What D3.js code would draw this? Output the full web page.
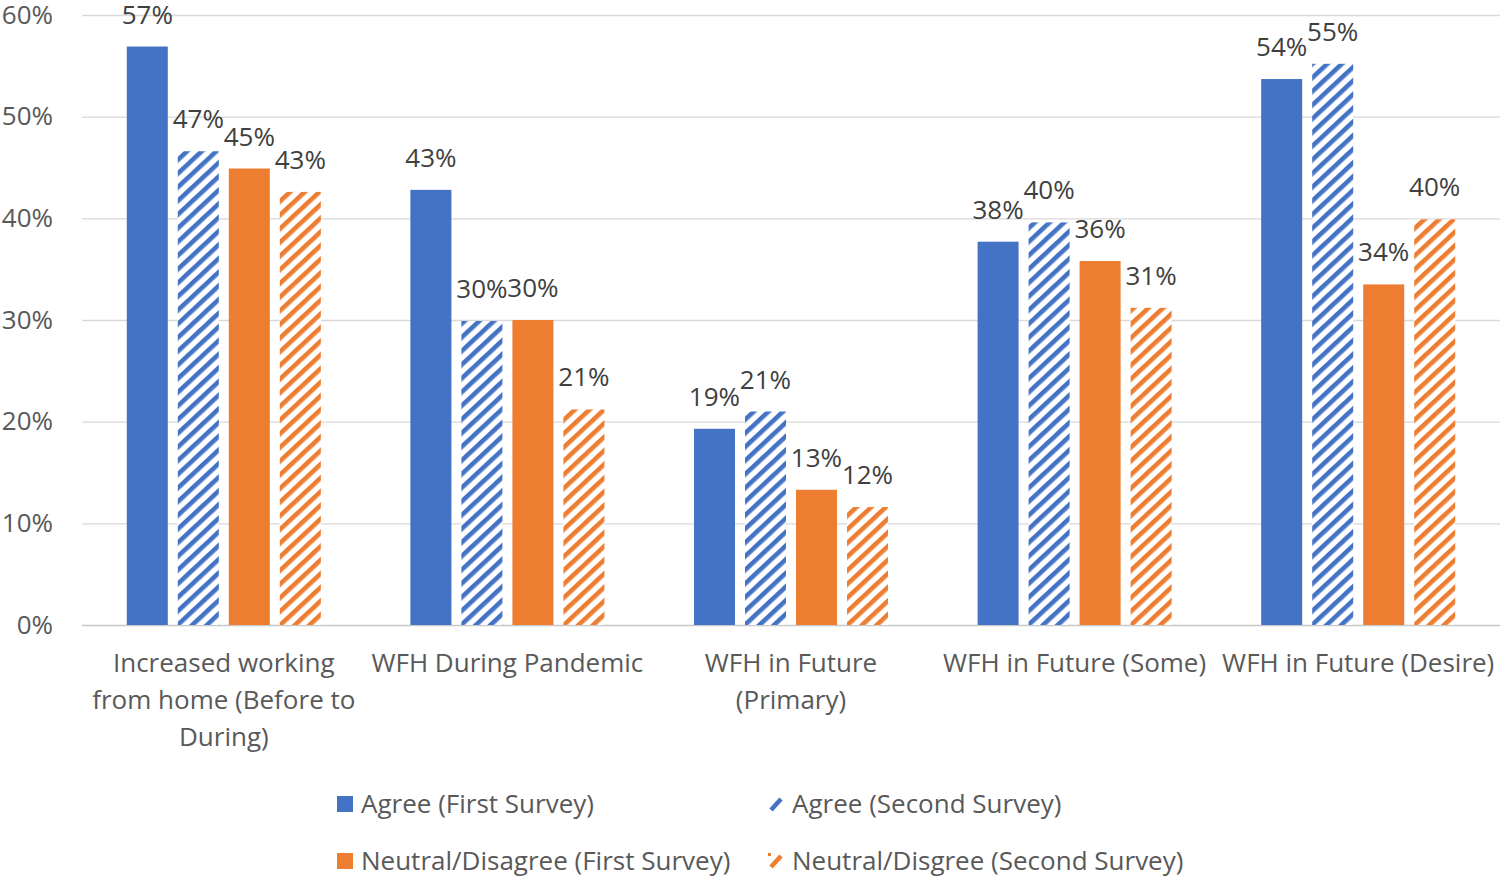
<!DOCTYPE html>
<html><head><meta charset="utf-8">
<script src="https://cdn.jsdelivr.net/npm/d3@7"></script>
<style>
html,body{margin:0;padding:0;background:#fff;}
svg{display:block;font-family:"Open Sans",sans-serif;}
</style></head>
<body><svg id="chart" width="1501" height="880"></svg>
<script>
const categories = ["Increased working from home (Before to During)","WFH During Pandemic","WFH in Future (Primary)","WFH in Future (Some)","WFH in Future (Desire)"];
const categoryLabels = [["Increased working","from home (Before to","During)"],["WFH During Pandemic"],["WFH in Future","(Primary)"],["WFH in Future (Some)"],["WFH in Future (Desire)"]];
const seriesNames = ["Agree (First Survey)","Agree (Second Survey)","Neutral/Disagree (First Survey)","Neutral/Disgree (Second Survey)"];
const agreeFirst = [56.9, 42.8, 19.3, 37.7, 53.7];
const agreeSecond = [46.6, 29.9, 21.0, 39.6, 55.2];
const neutralFirst = [44.9, 30.0, 13.3, 35.8, 33.5];
const neutralSecond = [42.6, 21.2, 11.6, 31.2, 39.9];
const yTicks = [0,10,20,30,40,50,60];

const series = [agreeFirst, agreeSecond, neutralFirst, neutralSecond];
const colors = ["#4472C4","#4472C4","#ED7D31","#ED7D31"];
const hatched = [false,true,false,true];

const svg = d3.select("#chart");
const margin = {left:82, right:1, top:15, bottom:255};
const W = 1501, H = 880;
const FS = "26px";
const y = d3.scaleLinear().domain([0,60]).range([H-margin.bottom, margin.top]);
const x0 = d3.scaleBand().domain(categories).range([margin.left, W-margin.right]).padding(0);
const x1 = d3.scaleBand().domain(d3.range(4)).range([0, x0.bandwidth()]).paddingInner(0.196).paddingOuter(0.878);

const defs = svg.append("defs");
["blue","orange"].forEach((n,i)=>{
  const p = defs.append("pattern").attr("id","hatch-"+n).attr("patternUnits","userSpaceOnUse")
    .attr("width",10).attr("height",10).attr("patternTransform","rotate(47)");
  p.append("rect").attr("width",10).attr("height",10).attr("fill","#fff");
  p.append("rect").attr("x",0).attr("width",4.6).attr("height",10).attr("fill", i===0?"#4472C4":"#ED7D31");
});
const fillFor = i => hatched[i] ? (i===1?"url(#hatch-blue)":"url(#hatch-orange)") : colors[i];

// gridlines
const yAxis = d3.axisLeft(y).tickValues(yTicks).tickSize(-(W-margin.left-margin.right)).tickFormat(d=>d+"%").tickPadding(29);
const gy = svg.append("g").attr("transform",`translate(${margin.left},0)`).call(yAxis);
gy.select(".domain").remove();
gy.selectAll(".tick line").attr("stroke", d=> d===0 ? "#c8c8c8" : "#d9d9d9").attr("stroke-width",1.3);
gy.selectAll(".tick text").attr("fill","#595959").style("font-size",FS).style("font-family","Open Sans");

// bars
const groups = svg.append("g").selectAll("g").data(categories).join("g")
  .attr("transform", d=>`translate(${x0(d)},0)`);
groups.each(function(cat, ci){
  const g = d3.select(this);
  series.forEach((s, si)=>{
    g.append("rect").attr("x", x1(si)).attr("width", x1.bandwidth())
      .attr("y", y(s[ci])).attr("height", y(0)-y(s[ci])).attr("fill", fillFor(si));
    g.append("text").attr("x", x1(si)+x1.bandwidth()/2).attr("y", y(s[ci])-23)
      .attr("text-anchor","middle").attr("fill","#404040").style("font-size",FS)
      .text(Math.round(s[ci])+"%");
  });
});

// x labels
const xl = svg.append("g").selectAll("text").data(categories).join("text")
  .attr("text-anchor","middle").attr("fill","#595959").style("font-size",FS)
  .attr("transform", d=>`translate(${x0(d)+x0.bandwidth()/2},0)`);
xl.each(function(d,i){
  const t = d3.select(this);
  categoryLabels[i].forEach((line,li)=>{
    t.append("tspan").attr("x",0).attr("y",672+li*37).text(line);
  });
});

// legend
const legendPos = [[337,804],[768,804],[337,861],[768,861]];
const lg = svg.append("g").selectAll("g").data(seriesNames).join("g")
  .attr("transform",(d,i)=>`translate(${legendPos[i][0]},${legendPos[i][1]})`);
lg.each(function(d,i){
  const g = d3.select(this);
  if (hatched[i]) {
    g.append("line").attr("x1",3).attr("y1",6).attr("x2",13).attr("y2",-5)
      .attr("stroke",colors[i]).attr("stroke-width",4.5).attr("stroke-linecap","butt");
    if (i===3) g.append("rect").attr("x",0).attr("y",-8).attr("width",3).attr("height",3).attr("fill",colors[i]);
  } else {
    g.append("rect").attr("x",0).attr("y",-8).attr("width",16).attr("height",16).attr("fill",colors[i]);
  }
});
lg.append("text").attr("x",24).attr("y",9).attr("fill","#595959").style("font-size",FS).text(d=>d);
</script></body></html>
